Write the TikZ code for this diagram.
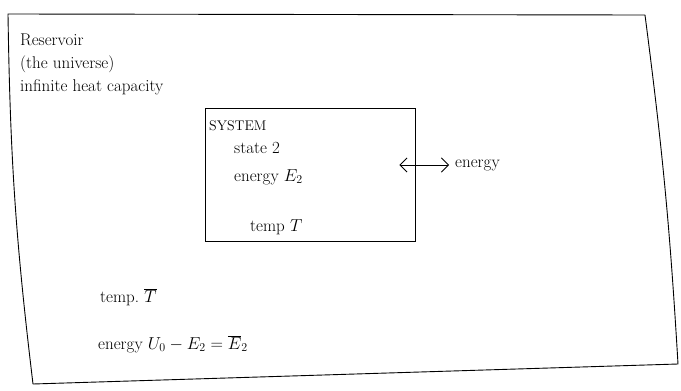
\documentclass[tikz,border=0pt]{standalone}
\usepackage{tikz}
\usetikzlibrary{positioning, arrows.meta}

\begin{document}
\begin{tikzpicture}[x=1pt, y=-1pt,
  hand/.style={font=\fontsize{17}{23}\selectfont, anchor=west, inner sep=0pt},
  frame/.style={line width=0.9pt, line join=round},
  sysbox/.style={draw, line width=0.9pt, minimum width=210pt, minimum height=133pt, inner sep=0pt},
  arrow/.style={{Straight Barb[length=2.5mm]}-{Straight Barb[length=2.5mm]}, line width=0.8pt}]

  \useasboundingbox (0,0) rectangle (681,391);

  % reservoir
  \draw[frame] (8,14) -- (645,15) to[bend left=2] (678,364) -- (33,384) to[bend left=3] cycle;
  \node[hand, align=left] (res) at (20,64) {Reservoir\\(the universe)\\infinite heat capacity};

  % system
  \node[sysbox] (sys) at (310,175) {};
  \node[hand, font=\fontsize{14}{16}\selectfont] (name) at (209,126) {SYSTEM};
  \node[hand] (state) at (234,148) {state 2};
  \node[hand] (esys) at (234,177) {energy $E_2$};
  \node[hand] (tsys) at (250,227) {temp $T$};

  \node[hand] (flow) at (455,165) {energy};
  \draw[arrow, shorten <=-16pt] (sys.east |- flow) -- ([xshift=-6pt]flow.west);

  % reservoir state
  \node[hand] (tres) at (100,297) {temp.\ $\overline{T}$};
  \node[hand] (eres) at (98,344) {energy $U_0 - E_2 = \overline{E}_2$};
\end{tikzpicture}
\end{document}
